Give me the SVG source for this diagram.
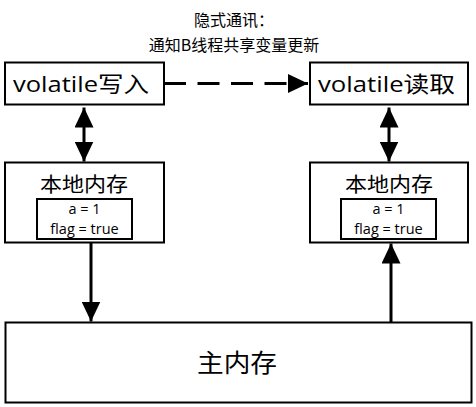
<svg xmlns="http://www.w3.org/2000/svg" width="476" height="407" viewBox="0 0 476 407">
<style>
.box{fill:#fff;stroke:#000;stroke-width:2}
.cn{font-family:"Noto Sans CJK SC","Open Sans",sans-serif;fill:#000}
.lat{font-family:"Open Sans","Noto Sans CJK SC",sans-serif;fill:#000}
.conn{stroke:#000;stroke-width:3;fill:none}
</style>
<defs>
<marker id="ah" markerUnits="userSpaceOnUse" viewBox="0 0 20 19" markerWidth="20" markerHeight="19" refX="20" refY="9.5" orient="auto-start-reverse">
<path d="M0,0 L20,9.5 L0,19 z" fill="#000"/>
</marker>
</defs>
<g id="title">
<text class="cn" x="234" y="26" font-size="16" text-anchor="middle">隐式通讯：</text>
<text class="cn" x="234" y="51" font-size="16" text-anchor="middle">通知B线程共享变量更新</text>
</g>
<g id="vwrite">
<rect class="box" x="5" y="62.5" width="159" height="42"/>
<text class="lat" x="13" y="92" font-size="22" textLength="136" lengthAdjust="spacingAndGlyphs">volatile写入</text>
</g>
<g id="vread">
<rect class="box" x="310" y="62.5" width="158" height="42"/>
<text class="lat" x="318" y="92" font-size="22" textLength="137" lengthAdjust="spacingAndGlyphs">volatile读取</text>
</g>
<g id="localA">
<rect class="box" x="5" y="162.5" width="159" height="80"/>
<text class="cn" x="40" y="192" font-size="20" textLength="88" lengthAdjust="spacingAndGlyphs">本地内存</text>
<rect class="box" x="37" y="199" width="95" height="40"/>
<text class="lat" x="84.5" y="214" font-size="14.5" text-anchor="middle">a = 1</text>
<text class="lat" x="84.5" y="234" font-size="14.5" text-anchor="middle">flag = true</text>
</g>
<g id="localB">
<rect class="box" x="310" y="162.5" width="158" height="80"/>
<text class="cn" x="345" y="192" font-size="20" textLength="88" lengthAdjust="spacingAndGlyphs">本地内存</text>
<rect class="box" x="341" y="199" width="95" height="40"/>
<text class="lat" x="388.5" y="214" font-size="14.5" text-anchor="middle">a = 1</text>
<text class="lat" x="388.5" y="234" font-size="14.5" text-anchor="middle">flag = true</text>
</g>
<g id="main">
<rect class="box" x="5.5" y="322.5" width="466" height="80"/>
<text class="cn" x="197" y="372" font-size="25" textLength="80" lengthAdjust="spacingAndGlyphs">主内存</text>
</g>
<g id="connectors">
<line class="conn" x1="164" y1="83.5" x2="308" y2="83.5" stroke-dasharray="22 11.5" marker-end="url(#ah)"/>
<line class="conn" x1="84" y1="107.5" x2="84" y2="161.5" marker-start="url(#ah)" marker-end="url(#ah)"/>
<line class="conn" x1="389" y1="107.5" x2="389" y2="161.5" marker-start="url(#ah)" marker-end="url(#ah)"/>
<line class="conn" x1="91" y1="243" x2="91" y2="321.5" marker-end="url(#ah)"/>
<line class="conn" x1="391" y1="322" x2="391" y2="243.5" marker-end="url(#ah)"/>
</g>
</svg>
